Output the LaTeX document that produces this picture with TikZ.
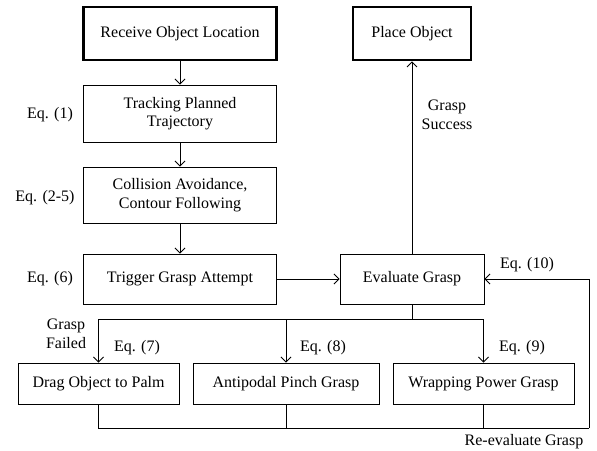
\documentclass[tikz,border=0pt]{standalone}
\usepackage{fontspec}
\setmainfont{Liberation Serif}
\usetikzlibrary{arrows.meta}
\tikzset{
  step box/.style={draw, line width=0.9pt, align=center, inner sep=0pt},
  end box/.style={draw, line width=2.6pt, align=center, inner sep=0pt},
  eq label/.style={align=center, inner sep=0pt},
  arr/.style={-{Straight Barb[length=5pt,width=10pt]}, line width=0.9pt},
  line/.style={line width=0.9pt}
}
\begin{document}
\begin{tikzpicture}[x=1pt,y=-1pt,font=\fontsize{16}{18.5}\selectfont]
\useasboundingbox (0,0) rectangle (597,450);
% boxes
\node[end box, minimum width=193, minimum height=53] (recv) at (180,33.5) {Receive Object Location};
\node[end box, minimum width=118, minimum height=53] (place) at (412,33.5) {Place Object};
\node[step box, minimum width=193, minimum height=57] (track) at (180,113.5) {Tracking Planned\\Trajectory};
\node[step box, minimum width=193, minimum height=56] (coll) at (180,195) {Collision Avoidance,\\Contour Following};
\node[step box, minimum width=193, minimum height=50] (trig) at (180,279) {Trigger Grasp Attempt};
\node[step box, minimum width=144, minimum height=50] (eval) at (412,279) {Evaluate Grasp};
\node[step box, minimum width=161, minimum height=41] (drag) at (98.5,383.5) {Drag Object to Palm};
\node[step box, minimum width=186, minimum height=41] (anti) at (286,383.5) {Antipodal Pinch Grasp};
\node[step box, minimum width=181, minimum height=41] (wrap) at (483.5,383.5) {Wrapping Power Grasp};
% labels
\node[eq label] (eq1) at (50,115) {Eq. (1)};
\node[eq label] (eq2) at (45,198) {Eq. (2-5)};
\node[eq label] (eq6) at (50,279) {Eq. (6)};
\node[eq label] (succ) at (447,115) {Grasp\\Success};
\node[eq label] (eq10) at (527,265) {Eq. (10)};
\node[eq label] (fail) at (66,334) {Grasp\\Failed};
\node[eq label] (eq7) at (137,348) {Eq. (7)};
\node[eq label] (eq8) at (323,348) {Eq. (8)};
\node[eq label] (eq9) at (522,348) {Eq. (9)};
\node[eq label] (reeval) at (524,442) {Re-evaluate Grasp};
% connectors
\coordinate (split) at (412,319);
\coordinate (join) at (589,428);
\draw[arr] (recv) -- (track);
\draw[arr] (track) -- (coll);
\draw[arr] (coll) -- (trig);
\draw[arr] (trig) -- (eval);
\draw[arr] (eval) -- (place);
\draw[line] (eval.south) -- (split);
\draw[arr] (split) -| (drag.north);
\draw[arr] (split) -| (anti.north);
\draw[arr] (split) -| (wrap.north);
\draw[line] (drag.south) |- (join);
\draw[line] (anti.south) -- (anti.south |- join);
\draw[line] (wrap.south) -- (wrap.south |- join);
\draw[arr] (join) |- (eval.east);
\end{tikzpicture}
\end{document}
